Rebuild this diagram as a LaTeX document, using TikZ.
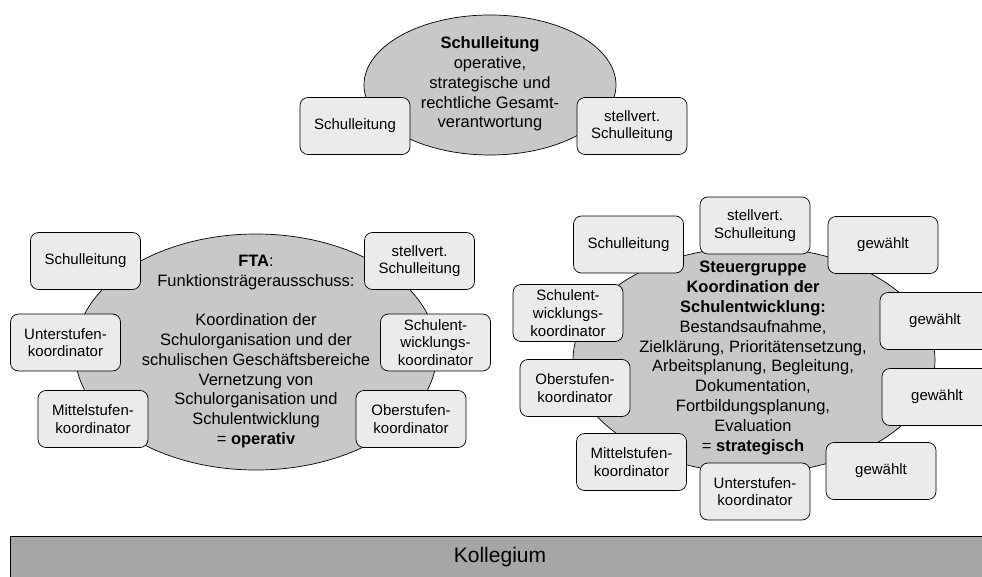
\documentclass[tikz,border=0pt]{standalone}
\usepackage{fontspec}
\setmainfont{Liberation Sans}
\usetikzlibrary{shapes.geometric}
\definecolor{ellgray}{HTML}{C8C8C8}
\definecolor{boxgray}{HTML}{EBEBEB}
\definecolor{bargray}{HTML}{A6A6A6}
\tikzset{
  ell/.style={ellipse, draw=black, line width=0.7pt, fill=ellgray, inner sep=0pt},
  elltext/.style={align=center, inner sep=0pt, font=\fontsize{16.5}{19.8}\selectfont},
  rbox/.style={rectangle, rounded corners=8pt, draw=black, line width=0.7pt, fill=boxgray,
    minimum width=110pt, minimum height=57pt, inner sep=0pt, align=center,
    font=\fontsize{15}{17.7}\selectfont},
  bar/.style={rectangle, draw=black, line width=0.7pt, fill=bargray, inner sep=0pt, anchor=north west},
}
\begin{document}
\begin{tikzpicture}[x=1pt,y=-1pt]
\useasboundingbox (0,0) rectangle (982,577);
\clip (0,0) rectangle (982,577);

% top group
\node[ell, minimum width=252pt, minimum height=140pt] (ellT) at (490,85) {};
\node[elltext] (txtT) at (490,84) {\textbf{Schulleitung}\\operative,\\strategische und\\rechtliche Gesamt-\\verantwortung};
\node[rbox] (t1) at (355,126) {Schulleitung};
\node[rbox] (t2) at (632,126) {stellvert.\\Schulleitung};

% left group
\node[ell, minimum width=362pt, minimum height=236pt] (ellL) at (256,352) {};
\node[elltext] (txtL) at (256,351.5) {\textbf{FTA}:\\Funktionsträgerausschuss:\\[19.8pt]Koordination der\\Schulorganisation und der\\schulischen Geschäftsbereiche\\Vernetzung von\\Schulorganisation und\\Schulentwicklung\\= \textbf{operativ}};
\node[rbox] (l1) at (85.5,261) {Schulleitung};
\node[rbox] (l2) at (65.5,342.5) {Unterstufen-\\koordinator};
\node[rbox] (l3) at (93,419) {Mittelstufen-\\koordinator};
\node[rbox] (l4) at (419.5,261) {stellvert.\\Schulleitung};
\node[rbox] (l5) at (435.5,342.5) {Schulent-\\wicklungs-\\koordinator};
\node[rbox] (l6) at (411,419) {Oberstufen-\\koordinator};

% right group
\node[ell, minimum width=362pt, minimum height=226pt] (ellR) at (754,360) {};
\node[elltext] (txtR) at (753,358) {\textbf{Steuergruppe}\\\textbf{Koordination der}\\\textbf{Schulentwicklung:}\\Bestandsaufnahme,\\Zielklärung, Prioritätensetzung,\\Arbeitsplanung, Begleitung,\\Dokumentation,\\Fortbildungsplanung,\\Evaluation\\= \textbf{strategisch}};
\node[rbox] (r1) at (628.5,244.5) {Schulleitung};
\node[rbox] (r2) at (755,225.5) {stellvert.\\Schulleitung};
\node[rbox] (r3) at (883,245) {gewählt};
\node[rbox] (r4) at (935,321) {gewählt};
\node[rbox] (r5) at (937,397) {gewählt};
\node[rbox] (r6) at (881,471) {gewählt};
\node[rbox] (r7) at (755,491.5) {Unterstufen-\\koordinator};
\node[rbox] (r8) at (631.5,462) {Mittelstufen-\\koordinator};
\node[rbox] (r9) at (575,388) {Oberstufen-\\koordinator};
\node[rbox] (r10) at (568,313) {Schulent-\\wicklungs-\\koordinator};

% bottom bar
\node[bar, minimum width=1000pt, minimum height=60pt] (kbar) at (10,535.5) {};
\node[inner sep=0pt, font=\fontsize{21}{24}\selectfont] (koll) at (500,557) {Kollegium};
\end{tikzpicture}
\end{document}
